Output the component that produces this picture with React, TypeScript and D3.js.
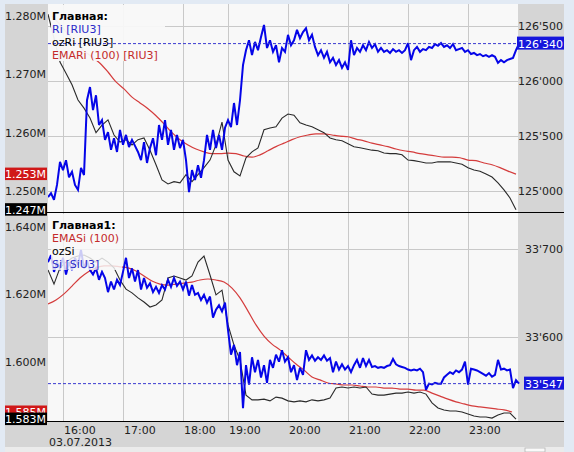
import * as d3 from "d3";

// time axis: one session, evening clearing 18:45-19:00 is skipped
const tickTimes = ["16:00", "17:00", "18:00", "19:00", "20:00", "21:00", "22:00", "23:00"];
const sessionDate = "03.07.2013";

// Ri [RIU3], price every 3 minutes from 15:45
const riStep = 3;
const riPrices = [
  124945, 124980, 124920, 125055, 125265, 125190, 125280, 125125, 125175, 125055,
  125010, 125210, 125145, 125825, 125945, 125735, 125870, 125600, 125645, 125465,
  125535, 125375, 125480, 125355, 125555, 125420, 125510, 125400, 125465, 125410,
  125355, 125280, 125445, 125255, 125390, 125480, 125325, 125600, 125465, 125645,
  125420, 125555, 125375, 125510, 125390, 125465, 125280, 124990, 125190, 125100,
  125235, 125120, 125280, 125510, 125375, 125555, 125390, 125510, 125375, 125575,
  125645, 125580, 125800, 125600, 125825, 126145, 126280, 126370, 126235, 126355,
  126280, 126400, 126510, 126300, 126370, 126265, 126325, 126170, 126300, 126265,
  126420, 126325, 126370, 126465, 126390, 126445, 126480, 126370, 126420, 126310,
  126235, 126280, 126210, 126265, 126170, 126210, 126145, 126190, 126120, 126170,
  126100, 126370, 126235, 126300, 126265, 126325, 126280, 126355, 126300, 126335,
  126265, 126300, 126265, 126280, 126255, 126290, 126265, 126280, 126255, 126280,
  126345, 126190, 126280, 126310, 126265, 126290, 126280, 126310, 126300, 126335,
  126320, 126345, 126310, 126325, 126300, 126335, 126280, 126290, 126300, 126265,
  126280, 126245, 126255, 126235, 126245, 126225, 126235, 126220, 126235, 126220,
  126165, 126190, 126170, 126190, 126200, 126210, 126280, 126340,
];

// ozRi [RIU3], millions, every 6 minutes
const ozRiStep = 6;
const ozRiValues = [
  1.2803, 1.2762, 1.2721, 1.2702, 1.2682, 1.2656, 1.2642, 1.2625, 1.26, 1.2613,
  1.2622, 1.2596, 1.2584, 1.2588, 1.2579, 1.2588, 1.2591, 1.257, 1.2545, 1.2519,
  1.2512, 1.2516, 1.2514, 1.2528, 1.2516, 1.2528, 1.254, 1.2553, 1.2579, 1.2618,
  1.2553, 1.2533, 1.2526, 1.2557, 1.2567, 1.2574, 1.2605, 1.2608, 1.261, 1.2625,
  1.2632, 1.263, 1.2617, 1.2613, 1.261, 1.2605, 1.26, 1.2591, 1.2588, 1.2586,
  1.2581, 1.2576, 1.2574, 1.2572, 1.257, 1.2569, 1.2565, 1.2564, 1.2564, 1.2562,
  1.2553, 1.2552, 1.255, 1.2548, 1.2548, 1.255, 1.255, 1.255, 1.2548, 1.2546,
  1.254, 1.2536, 1.2534, 1.2529, 1.2524, 1.2514, 1.2502, 1.2488, 1.2468,
];

// EMARi (100), millions, every 8 minutes from 15:49
const emaRiStart = 4;
const emaRiStep = 8;
const emaRiValues = [
  1.28, 1.2785, 1.2769, 1.2754, 1.274, 1.273, 1.2719, 1.2704, 1.2687, 1.2675,
  1.2661, 1.2651, 1.2641, 1.2629, 1.2615, 1.26, 1.2588, 1.2579, 1.2572, 1.2567,
  1.2564, 1.2564, 1.2565, 1.2564, 1.256, 1.2558, 1.2562, 1.2569, 1.2576, 1.2582,
  1.2588, 1.2593, 1.2596, 1.2598, 1.2598, 1.2596, 1.2594, 1.2593, 1.2589, 1.2586,
  1.2582, 1.2579, 1.2576, 1.2572, 1.2569, 1.2567, 1.2564, 1.2562, 1.256, 1.2558,
  1.2558, 1.2557, 1.2553, 1.2552, 1.2548, 1.2545, 1.254, 1.2534, 1.2529,
];

// Si [SiU3], every 3 minutes
const siStep = 3;
const siPrices = [
  33685, 33693, 33674, 33685, 33678, 33690, 33671, 33685, 33676, 33690,
  33682, 33699, 33678, 33687, 33676, 33671, 33678, 33665, 33674, 33667,
  33651, 33663, 33654, 33665, 33659, 33674, 33690, 33667, 33678, 33663,
  33676, 33654, 33667, 33656, 33661, 33651, 33657, 33650, 33659, 33654,
  33665, 33657, 33667, 33658, 33663, 33654, 33663, 33647, 33659, 33648,
  33650, 33642, 33648, 33639, 33646, 33622, 33631, 33636, 33629, 33639,
  33608, 33580, 33591, 33568, 33583, 33519, 33568, 33546, 33577, 33560,
  33574, 33554, 33568, 33548, 33574, 33565, 33580, 33572, 33585, 33572,
  33577, 33560, 33568, 33551, 33565, 33557, 33585, 33574, 33579, 33573,
  33577, 33574, 33579, 33573, 33576, 33560, 33572, 33563, 33569, 33563,
  33567, 33560, 33568, 33574, 33565, 33576, 33567, 33574, 33566, 33567,
  33565, 33566, 33565, 33567, 33568, 33575, 33569, 33567, 33566, 33565,
  33563, 33562, 33563, 33562, 33564, 33560, 33540, 33547, 33546, 33548,
  33547, 33547, 33554, 33557, 33560, 33558, 33562, 33560, 33563, 33572,
  33546, 33564, 33563, 33562, 33560, 33558, 33556, 33559, 33555, 33557,
  33574, 33563, 33564, 33562, 33563, 33542, 33551, 33547,
];

// ozSi, millions, every 6 minutes
const ozSiStep = 6;
const ozSiValues = [
  1.6272, 1.623, 1.6278, 1.6295, 1.6307, 1.6313, 1.6316, 1.6307, 1.6295, 1.6307,
  1.6295, 1.6278, 1.6242, 1.6215, 1.6204, 1.6189, 1.6177, 1.6162, 1.6168, 1.6183,
  1.6248, 1.6254, 1.6248, 1.6242, 1.6254, 1.6295, 1.6313, 1.6257, 1.6198, 1.6212,
  1.6109, 1.6049, 1.6005, 1.5901, 1.5887, 1.5887, 1.5889, 1.5884, 1.5895, 1.5892,
  1.5884, 1.5881, 1.5884, 1.5881, 1.5887, 1.5884, 1.5887, 1.5892, 1.5922, 1.5925,
  1.5922, 1.5925, 1.5922, 1.5925, 1.5904, 1.5901, 1.5901, 1.5904, 1.5907, 1.5907,
  1.591, 1.5907, 1.591, 1.5904, 1.5878, 1.5863, 1.5857, 1.5854, 1.5854, 1.5851,
  1.5845, 1.5839, 1.5836, 1.5836, 1.5833, 1.5842, 1.5848, 1.5848, 1.583,
];

// EMASi (100), millions, every 8 minutes
const emaSiStep = 8;
const emaSiValues = [
  1.6171, 1.6183, 1.6201, 1.6224, 1.6248, 1.6266, 1.6278, 1.6284, 1.6284, 1.6281,
  1.6278, 1.6269, 1.6254, 1.6239, 1.623, 1.6227, 1.623, 1.6233, 1.6236, 1.6242,
  1.6245, 1.6242, 1.6236, 1.6218, 1.6189, 1.615, 1.6109, 1.6076, 1.6052, 1.6035,
  1.6014, 1.5993, 1.5975, 1.5955, 1.5946, 1.5937, 1.5934, 1.5931, 1.5931, 1.5928,
  1.5925, 1.5925, 1.5922, 1.5922, 1.5919, 1.5919, 1.5916, 1.5916, 1.5907, 1.5898,
  1.5889, 1.5881, 1.5875, 1.5869, 1.5866, 1.5863, 1.586, 1.5857, 1.5851,
];

const riTicks = [125000, 125500, 126000, 126500];
const ozRiTicks = [1.25, 1.26, 1.27, 1.28];
const siTicks = [33600, 33700];
const ozSiTicks = [1.6, 1.62, 1.64];

const W = 574;
const H = 452;
const plotL = 48;
const plotR = 518;
const font = "'DejaVu Sans', Verdana, sans-serif";
const BLUE = "#0505e8";
const RED = "#d43c3c";
const DARK = "#2a2a2a";

// minutes since 15:45 with the evening clearing removed
const toMinutes = (hhmm: string) => {
  const [h, m] = hhmm.split(":").map(Number);
  const raw = h * 60 + m - (15 * 60 + 45);
  return raw > 180 ? Math.max(180, raw - 15) : raw;
};

const fmtPrice = (v: number) => d3.format(",")(v).replace(/,/g, "'");
const fmtM = (v: number) => v.toFixed(3) + "M";
const textW = (s: string) => s.replace(/'/g, "").length * 7 + (s.match(/'/g) || []).length * 3;

export default function App() {
  const x = d3.scaleLinear().domain([0, 470]).range([plotL, plotR]);

  const yRi = d3.scaleLinear().domain([125000, 126500]).range([191, 26]);
  const yOzRi = d3.scaleLinear().domain([1.25, 1.28]).range([191, 16]);
  const ySi = d3.scaleLinear().domain([33600, 33700]).range([337, 249]);
  const yOzSi = d3.scaleLinear().domain([1.6, 1.64]).range([361.7, 226.7]);

  const path = (
    values: number[],
    start: number,
    step: number,
    y: d3.ScaleLinear<number, number>,
    curve: d3.CurveFactory = d3.curveLinear
  ) =>
    d3
      .line<number>()
      .x((_, i) => x(start + i * step))
      .y((v) => y(v))
      .curve(curve)(values) ?? "";

  const panels = [
    {
      id: "top",
      y0: 4,
      y1: 212,
      gridTicks: riTicks,
      yPrice: yRi,
      yLeft: yOzRi,
      leftTicks: ozRiTicks,
      price: { values: riPrices, step: riStep },
      oz: { values: ozRiValues, start: 0, step: ozRiStep },
      ema: { values: emaRiValues, start: emaRiStart, step: emaRiStep },
      legend: [
        { text: "Главная:", color: "#000", bold: true },
        { text: "Ri [RIU3]", color: "#2a2ac8" },
        { text: "ozRi [RIU3]", color: "#000" },
        { text: "EMARi (100) [RIU3]", color: "#c42a2a" },
      ],
      legendW: 114,
      legendOpacity: 0.95,
    },
    {
      id: "bottom",
      y0: 213,
      y1: 421,
      gridTicks: siTicks,
      yPrice: ySi,
      yLeft: yOzSi,
      leftTicks: ozSiTicks,
      price: { values: siPrices, step: siStep },
      oz: { values: ozSiValues, start: 0, step: ozSiStep },
      ema: { values: emaSiValues, start: 0, step: emaSiStep },
      legend: [
        { text: "Главная1:", color: "#000", bold: true },
        { text: "EMASi (100)", color: "#c42a2a" },
        { text: "ozSi", color: "#000" },
        { text: "Si [SiU3]", color: "#2a2ac8" },
      ],
      legendW: 71,
      legendOpacity: 0.82,
    },
  ];

  return (
    <svg
      width={W}
      height={H}
      style={{ position: "absolute", left: 0, top: 0, display: "block" }}
      fontFamily={font}
      fontSize={11}
    >
      <defs>
        {panels.map((p) => (
          <clipPath id={`clip-${p.id}`} key={p.id}>
            <rect x={plotL} y={p.y0} width={plotR - plotL + 2} height={p.y1 - p.y0} />
          </clipPath>
        ))}
      </defs>

      {/* window frame and axis panels */}
      <rect width={W} height={H} fill="#e2eaf4" />
      <rect x={5} y={4} width={559} height={443} fill="#d5d5d5" />
      <rect x={5} y={447} width={559} height={5} fill="#ebebeb" />
      <rect x={525} y={448} width={20} height={4} fill="#fafafa" stroke="#b5b5b5" strokeWidth={0.8} />

      {panels.map((p) => (
        <rect key={`bg-${p.id}`} x={plotL} y={p.y0} width={plotR - plotL} height={p.y1 - p.y0} fill="#f8f8f8" />
      ))}

      {/* vertical grid */}
      {tickTimes.map((t) => {
        const gx = Math.round(x(toMinutes(t))) + 0.5;
        return <line key={`vg-${t}`} x1={gx} x2={gx} y1={4} y2={421} stroke="#c9c9c9" strokeWidth={1} />;
      })}

      {panels.map((p) => (
        <g key={`panel-${p.id}`}>
          {p.gridTicks.map((v) => {
            const gy = Math.round(p.yPrice(v)) + 0.5;
            return <line key={v} x1={plotL} x2={plotR} y1={gy} y2={gy} stroke="#c9c9c9" strokeWidth={1} />;
          })}
          <g clipPath={`url(#clip-${p.id})`} fill="none">
            <path d={path(p.ema.values, p.ema.start, p.ema.step, p.yLeft, d3.curveMonotoneX)} stroke={RED} strokeWidth={1.2} />
            <path d={path(p.oz.values, p.oz.start, p.oz.step, p.yLeft)} stroke={DARK} strokeWidth={1.1} />
            <path d={path(p.price.values, 0, p.price.step, p.yPrice)} stroke={BLUE} strokeWidth={2} strokeLinejoin="miter" strokeMiterlimit={3} />
          </g>
          <rect x={51} y={p.y0 + 1} width={p.legendW} height={56} fill="#f8f8f8" opacity={p.legendOpacity} />
          <line
            x1={plotL}
            x2={plotR}
            y1={p.yPrice(p.price.values[p.price.values.length - 1])}
            y2={p.yPrice(p.price.values[p.price.values.length - 1])}
            stroke="#3a3ad0"
            strokeWidth={1}
            strokeDasharray="3,2"
          />
          {p.legend.map((l, i) => (
            <text key={l.text} x={52} y={p.y0 + 16 + i * 13} fill={l.color} fontWeight={l.bold ? "bold" : "normal"}>
              {l.text}
            </text>
          ))}

          {/* right price axis */}
          {p.gridTicks.map((v) => (
            <text key={`r-${v}`} x={563} y={p.yPrice(v) + 4} textAnchor="end" fill="#222">
              {fmtPrice(v)}
            </text>
          ))}
          {(() => {
            const last = p.price.values[p.price.values.length - 1];
            const s = fmtPrice(last);
            const w = textW(s);
            const cy = p.yPrice(last);
            return (
              <g>
                <rect x={563 - w - 1} y={cy - 7} width={w + 2} height={13} fill="#1515dc" />
                <text x={563} y={cy + 4} textAnchor="end" fill="#fff">
                  {s}
                </text>
              </g>
            );
          })()}

          {/* left axis */}
          {p.leftTicks.map((v) => (
            <text key={`l-${v}`} x={46} y={p.yLeft(v) + 4} textAnchor="end" fill="#222">
              {fmtM(v)}
            </text>
          ))}
          {[
            { v: p.ema.values[p.ema.values.length - 1], bg: "#d01818" },
            { v: p.oz.values[p.oz.values.length - 1], bg: "#000" },
          ].map((b) => (
            <g key={`box-${b.bg}`}>
              <rect x={5} y={p.yLeft(b.v) - 6.5} width={42} height={12.5} fill={b.bg} />
              <text x={46} y={p.yLeft(b.v) + 4} textAnchor="end" fill="#fff">
                {fmtM(b.v)}
              </text>
            </g>
          ))}
        </g>
      ))}

      {/* panel separators */}
      <line x1={46} x2={564} y1={212.5} y2={212.5} stroke="#000" strokeWidth={1.2} />
      <line x1={46} x2={564} y1={421.5} y2={421.5} stroke="#000" strokeWidth={1.2} />

      {/* time axis */}
      {tickTimes.map((t) => (
        <text key={`t-${t}`} x={x(toMinutes(t)) + 1} y={434} fill="#222">
          {t}
        </text>
      ))}
      <text x={49} y={446} fill="#222">
        {sessionDate}
      </text>
    </svg>
  );
}
